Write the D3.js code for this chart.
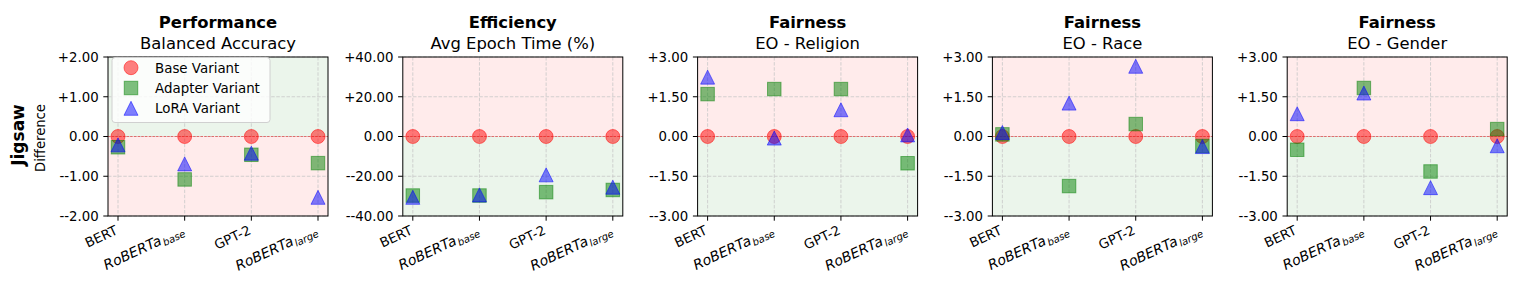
<!DOCTYPE html>
<html><head><meta charset="utf-8">
<script src="https://cdn.jsdelivr.net/npm/d3@7"></script>
<style>body{margin:0;background:#fff} text{font-family:"DejaVu Sans",sans-serif;fill:#000}</style>
</head><body><svg id="c" width="1515" height="290"></svg>
<script>
// ---------- data ----------
const modelNames = ["BERT", "RoBERTa", "GPT-2", "RoBERTa"];
const modelSubs  = ["", "base", "", "large"];
const titles     = ["Performance", "Efficiency", "Fairness", "Fairness", "Fairness"];
const subtitles  = ["Balanced Accuracy", "Avg Epoch Time (%)", "EO - Religion", "EO - Race", "EO - Gender"];
const yTicks = [
  [-2, -1, 0, 1, 2],
  [-40, -20, 0, 20, 40],
  [-3, -1.5, 0, 1.5, 3],
  [-3, -1.5, 0, 1.5, 3],
  [-3, -1.5, 0, 1.5, 3]
];
const higherIsBetter = [true, false, false, false, false];
const baseValues = [
  [0, 0, 0, 0],
  [0, 0, 0, 0],
  [0, 0, 0, 0],
  [0, 0, 0, 0],
  [0, 0, 0, 0]
];
const adapterValues = [
  [-0.27, -1.08, -0.46, -0.67],
  [-29.7, -29.7, -28.0, -26.9],
  [1.60, 1.79, 1.79, -1.01],
  [0.08, -1.87, 0.47, -0.36],
  [-0.50, 1.83, -1.32, 0.28]
];
const loraValues = [
  [-0.21, -0.69, -0.42, -1.53],
  [-30.6, -29.4, -19.3, -25.5],
  [2.24, -0.06, 1.01, 0.06],
  [0.15, 1.26, 2.65, -0.38],
  [0.86, 1.64, -1.93, -0.35]
];
const seriesNames = ["Base Variant", "Adapter Variant", "LoRA Variant"];
const rowLabel = "Jigsaw";
const yLabel = "Difference";

// ---------- layout ----------
const svg = d3.select("#c");
const topY = 57, botY = 216, pw = 220, left0 = 108, step = 294.8;
const RED = "#ff0000", GREEN = "#008000", BLUE = "#0000ff";
const TICK = 4.7, PAD = 4.7, FS = 13.3;

function fmt(v) {
  if (v > 0) return "+" + v.toFixed(2);
  if (v < 0) return "-" + v.toFixed(2);
  return "0.00";
}
function triPath(s) {
  const h = s / 2;
  return `M0,${-h}L${h},${h}L${-h},${h}Z`;
}
function drawMarker(g, type, x, y) {
  if (type === 0) {
    g.append("circle").attr("cx", x).attr("cy", y).attr("r", 7)
      .attr("fill", RED).attr("fill-opacity", 0.5)
      .attr("stroke", RED).attr("stroke-opacity", 0.5).attr("stroke-width", 1);
  } else if (type === 1) {
    const s = 13.5;
    g.append("rect").attr("x", x - s / 2).attr("y", y - s / 2).attr("width", s).attr("height", s)
      .attr("fill", GREEN).attr("fill-opacity", 0.5)
      .attr("stroke", GREEN).attr("stroke-opacity", 0.5).attr("stroke-width", 1);
  } else {
    g.append("path").attr("d", triPath(14)).attr("transform", `translate(${x},${y})`)
      .attr("fill", BLUE).attr("fill-opacity", 0.5)
      .attr("stroke", BLUE).attr("stroke-opacity", 0.5).attr("stroke-width", 1);
  }
}

titles.forEach((t, i) => {
  const L = left0 + i * step, R = L + pw;
  const ticks = yTicks[i];
  const ymax = d3.max(ticks);
  const xs = d3.scaleLinear().domain([-0.15, modelNames.length - 1 + 0.15]).range([L, R]);
  const y = d3.scaleLinear().domain([-ymax, ymax]).range([botY, topY]);
  const g = svg.append("g");

  // background halves
  const upColor = higherIsBetter[i] ? "rgb(235,245,235)" : "rgb(255,235,235)";
  const dnColor = higherIsBetter[i] ? "rgb(255,235,235)" : "rgb(235,245,235)";
  g.append("rect").attr("x", L).attr("y", y(ymax)).attr("width", pw).attr("height", y(0) - y(ymax)).attr("fill", upColor);
  g.append("rect").attr("x", L).attr("y", y(0)).attr("width", pw).attr("height", y(-ymax) - y(0)).attr("fill", dnColor);

  // grid
  ticks.forEach(v => {
    g.append("line").attr("x1", L).attr("x2", R).attr("y1", y(v)).attr("y2", y(v))
      .attr("stroke", "#c8c8c8").attr("stroke-width", 0.8).attr("stroke-dasharray", "3.5,1.6");
  });
  modelNames.forEach((m, j) => {
    g.append("line").attr("x1", xs(j)).attr("x2", xs(j)).attr("y1", topY).attr("y2", botY)
      .attr("stroke", "#c8c8c8").attr("stroke-width", 0.8).attr("stroke-dasharray", "3.5,1.6");
  });
  // zero line
  g.append("line").attr("x1", L).attr("x2", R).attr("y1", y(0)).attr("y2", y(0))
    .attr("stroke", "#e06060").attr("stroke-width", 0.9).attr("stroke-dasharray", "2.5,1.2");

  // markers
  [baseValues[i], adapterValues[i], loraValues[i]].forEach((vals, s) => {
    vals.forEach((v, j) => drawMarker(g, s, xs(j), y(v)));
  });

  // spines
  g.append("rect").attr("x", L).attr("y", topY).attr("width", pw).attr("height", botY - topY)
    .attr("fill", "none").attr("stroke", "#000").attr("stroke-width", 1);

  // y axis ticks
  ticks.forEach(v => {
    g.append("line").attr("x1", L - TICK).attr("x2", L).attr("y1", y(v)).attr("y2", y(v)).attr("stroke", "#000");
    g.append("text").attr("x", L - TICK - PAD).attr("y", y(v)).attr("dy", "0.36em")
      .attr("text-anchor", "end").attr("font-size", FS).text(fmt(v));
  });
  // x axis ticks
  modelNames.forEach((m, j) => {
    g.append("line").attr("x1", xs(j)).attr("x2", xs(j)).attr("y1", botY).attr("y2", botY + TICK).attr("stroke", "#000");
    const tx = g.append("text").attr("transform", `translate(${xs(j) + 0.5},${233.5}) rotate(-25)`)
      .attr("text-anchor", "end").attr("font-size", FS);
    if (modelSubs[j]) {
      tx.append("tspan").attr("font-style", "italic").attr("font-size", 14).text(m);
      tx.append("tspan").attr("font-style", "italic").attr("font-size", 10).attr("dx", 1).attr("dy", 2.8).text(modelSubs[j]);
    } else {
      tx.text(m);
    }
  });

  // titles
  const cx = (L + R) / 2;
  g.append("text").attr("x", cx).attr("y", 27.5).attr("text-anchor", "middle")
    .attr("font-size", 16.4).attr("font-weight", "bold").text(t);
  g.append("text").attr("x", cx).attr("y", 48.5).attr("text-anchor", "middle")
    .attr("font-size", 16.4).text(subtitles[i]);

  // legend
  if (i === 0) {
    const lg = svg.append("g");
    lg.append("rect").attr("x", 112).attr("y", 57.5).attr("width", 158).attr("height", 65).attr("rx", 3)
      .attr("fill", "#fff").attr("fill-opacity", 0.8).attr("stroke", "#d0d0d0").attr("stroke-width", 1);
    seriesNames.forEach((n, s) => {
      const ly = 67.7 + s * 20.3;
      drawMarker(lg, s, 131, ly);
      lg.append("text").attr("x", 155).attr("y", ly).attr("dy", "0.36em").attr("font-size", 13.4).text(n);
    });
  }
});

// row labels
svg.append("text").attr("transform", `translate(23.5,135) rotate(-90)`).attr("text-anchor", "middle")
  .attr("font-size", 17).attr("font-weight", "bold").text(rowLabel);
svg.append("text").attr("transform", `translate(44.5,138) rotate(-90)`).attr("text-anchor", "middle")
  .attr("font-size", 13.2).text(yLabel);
</script></body></html>
